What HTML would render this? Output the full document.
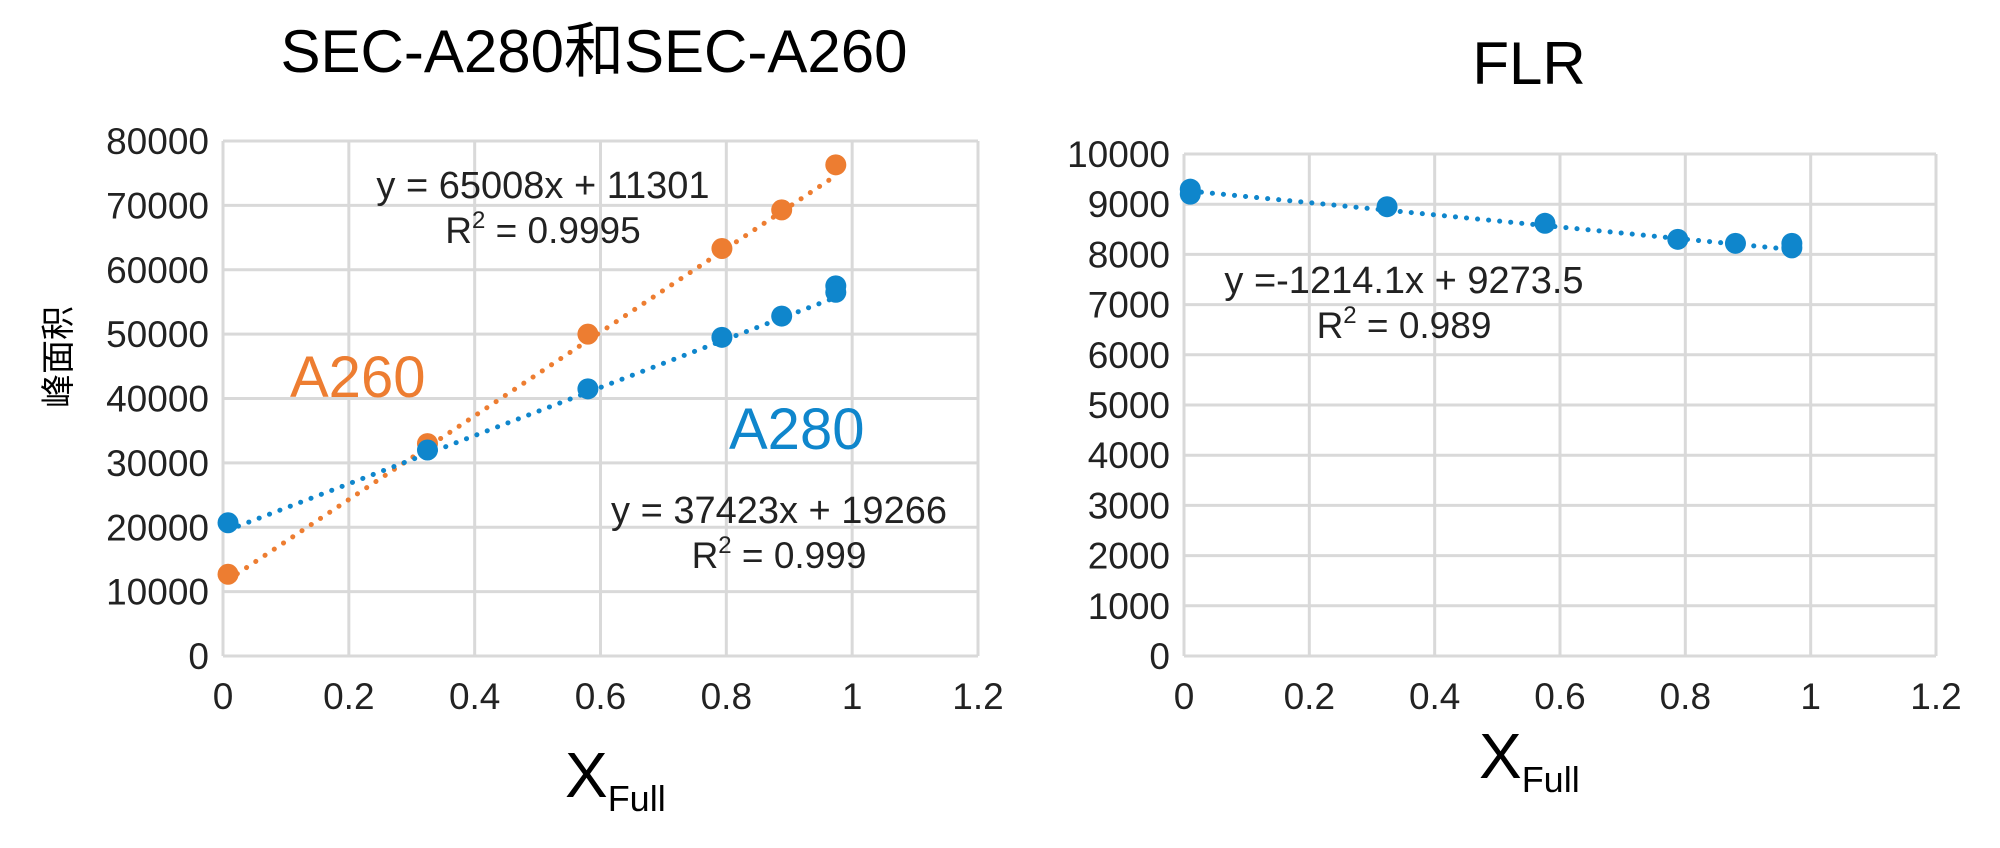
<!DOCTYPE html>
<html><head><meta charset="utf-8"><style>
html,body{margin:0;padding:0;background:#fff;}
svg{display:block;font-family:"Liberation Sans","Noto Sans CJK SC",sans-serif;}
</style></head><body>
<svg id="c" width="2000" height="848" viewBox="0 0 2000 848" xmlns="http://www.w3.org/2000/svg"></svg>
<script>
// ---- data: left chart ----
const leftXTicks = ["0","0.2","0.4","0.6","0.8","1","1.2"];
const leftYTicks = ["0","10000","20000","30000","40000","50000","60000","70000","80000"];
const a280X = [0.008, 0.325, 0.58, 0.793, 0.888, 0.974, 0.974];
const a280Y = [20700, 32000, 41500, 49500, 52800, 57500, 56500];
const a260X = [0.008, 0.325, 0.58, 0.793, 0.888, 0.974];
const a260Y = [12700, 33000, 50000, 63300, 69300, 76300];
const a280Fit = [37423, 19266];
const a260Fit = [65008, 11301];
// ---- data: right chart ----
const rightXTicks = ["0","0.2","0.4","0.6","0.8","1","1.2"];
const rightYTicks = ["0","1000","2000","3000","4000","5000","6000","7000","8000","9000","10000"];
const flrX = [0.01, 0.01, 0.324, 0.576, 0.788, 0.88, 0.97, 0.97];
const flrY = [9300, 9200, 8950, 8620, 8300, 8220, 8220, 8130];
const flrFit = [-1214.1, 9273.5];

const NS="http://www.w3.org/2000/svg";
const svg=document.getElementById('c');
function mk(tag,attrs,parent){const e=document.createElementNS(NS,tag);for(const k in attrs)e.setAttribute(k,attrs[k]);(parent||svg).appendChild(e);return e;}
const BLUE="#0f86cc", ORANGE="#ed7d31";

function panel(name,x0,x1,y0,y1,xmax,ymax,xt,yt){
  const g=mk('g',{});
  
  
  const sx=v=>x0+(x1-x0)*v/xmax;
  const sy=v=>y0-(y0-y1)*v/ymax;
  const grid=mk('g',{},g);
  
  
  yt.forEach((t,i)=>{const v=ymax*i/(yt.length-1);
    const l=mk('line',{x1:x0,x2:x1,y1:sy(v),y2:sy(v),stroke:'#d9d9d9','stroke-width':3},grid);
    
    
    const tx=mk('text',{x:x0-14,y:sy(v)+13,'text-anchor':'end','font-size':37,fill:'#222'},g);
    
    
    tx.textContent=t;});
  xt.forEach((t,i)=>{const v=xmax*i/(xt.length-1);
    const l=mk('line',{x1:sx(v),x2:sx(v),y1:y0,y2:y1,stroke:'#d9d9d9','stroke-width':3},grid);
    
    
    const tx=mk('text',{x:sx(v),y:y0+53,'text-anchor':'middle','font-size':37,fill:'#222'},g);
    
    
    tx.textContent=t;});
  return {g,sx,sy};
}
function series(p,name,xs,ys,fit,color){
  const g=mk('g',{},p.g);
  
  
  const xmin=Math.min(...xs), xmax=Math.max(...xs);
  const l=mk('line',{x1:p.sx(xmin),y1:p.sy(fit[0]*xmin+fit[1]),x2:p.sx(xmax),y2:p.sy(fit[0]*xmax+fit[1]),stroke:color,'stroke-width':5,'stroke-linecap':'round','stroke-dasharray':'0.1 11'},g);
  
  
  xs.forEach((x,i)=>{const c=mk('circle',{cx:p.sx(x),cy:p.sy(ys[i]),r:10.5,fill:color},g);
    
    });
}
function txt(x,y,s,size,color,anchor,name,parent){const t=mk('text',{x:x,y:y,'font-size':size,fill:color,'text-anchor':anchor||'start'},parent);
  
  
  t.textContent=s;return t;}
function r2(x,y,val,name){const t=mk('text',{x:x,y:y,'font-size':37,fill:'#222','text-anchor':'middle'});
  
  
  t.innerHTML='R<tspan dy="-15" font-size="24">2</tspan><tspan dy="15"> = '+val+'</tspan>';}

// left
const L=panel('left-plot',223,978,656,141,1.2,80000,leftXTicks,leftYTicks);
series(L,'a260-series',a260X,a260Y,a260Fit,ORANGE);
series(L,'a280-series',a280X,a280Y,a280Fit,BLUE);
txt(594,72,'SEC-A280和SEC-A260',60,'#000','middle','left-chart-title');
const yt=mk('text',{x:0,y:0,'font-size':34,fill:'#000','text-anchor':'middle',transform:'translate(70,357) rotate(-90)'});


yt.textContent='峰面积';
txt(543,198,'y = 65008x + 11301',38,'#222','middle','a260-equation');
r2(543,243,'0.9995','a260-r-squared');
txt(290,397,'A260',58,ORANGE,'start','a260-label');
txt(729,449,'A280',58,BLUE,'start','a280-label');
txt(779,523,'y = 37423x + 19266',38,'#222','middle','a280-equation');
r2(779,568,'0.999','a280-r-squared');
const xl=mk('text',{x:565,y:797,'font-size':64,fill:'#000'});


xl.innerHTML='X<tspan dy="14" font-size="36">Full</tspan>';

// right
const R=panel('right-plot',1184,1936,656,154,1.2,10000,rightXTicks,rightYTicks);
series(R,'flr-series',flrX,flrY,flrFit,BLUE);
txt(1529,84,'FLR',60,'#000','middle','right-chart-title');
txt(1404,293,'y =-1214.1x + 9273.5',38,'#222','middle','flr-equation');
r2(1404,338,'0.989','flr-r-squared');
const xr=mk('text',{x:1479,y:778,'font-size':64,fill:'#000'});


xr.innerHTML='X<tspan dy="14" font-size="36">Full</tspan>';
</script>
</body></html>
